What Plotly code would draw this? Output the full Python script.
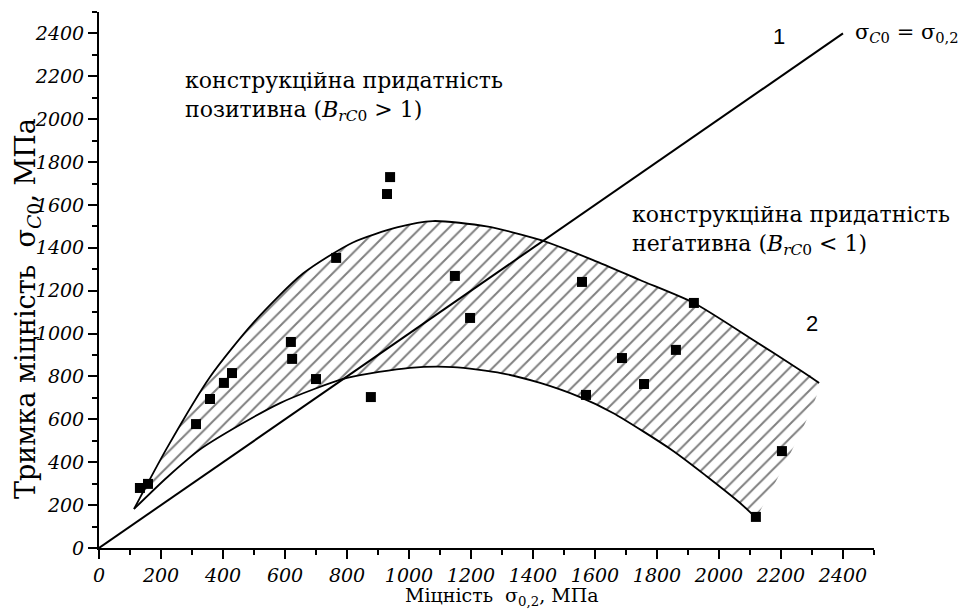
import plotly.graph_objects as go

# measured points
pts_x = [132, 158, 313, 358, 403, 429, 619, 623, 700, 765, 877, 929, 939, 1148, 1197,
         1558, 1571, 1687, 1758, 1861, 1919, 2119, 2203]
pts_y = [280, 299, 578, 695, 770, 816, 961, 882, 788, 1353, 704, 1651, 1730, 1269, 1073,
         1241, 714, 886, 765, 924, 1143, 145, 452]

# band boundaries
upper_x = [113, 219, 358, 497, 658, 819, 961, 1077, 1250, 1423, 1594, 1745, 1919, 2100, 2261, 2323]
upper_y = [182, 466, 798, 1049, 1280, 1425, 1495, 1525, 1500, 1437, 1343, 1250, 1143, 980, 830, 770]
lower_x = [113, 220, 332, 584, 800, 1003, 1142, 1300, 1423, 1550, 1658, 1850, 1960, 2068, 2120]
lower_y = [182, 330, 466, 676, 793, 840, 844, 815, 770, 705, 630, 455, 335, 210, 140]

# line 1: sigma_C0 = sigma_0.2
diag_x = [0, 2400]
diag_y = [0, 2400]

tick_vals = list(range(0, 2401, 200))
tick_text = [str(v) for v in tick_vals]

SERIF = "DejaVu Serif"
SANS = "Liberation Sans"

fig = go.Figure()

# hatched band
poly_x = upper_x + [lower_x[-1]] + lower_x[::-1]
poly_y = upper_y + [lower_y[-1]] + lower_y[::-1]
fig.add_trace(go.Scatter(
    x=poly_x, y=poly_y, mode="lines", fill="toself",
    line=dict(width=0, color="rgba(0,0,0,0)", shape="spline", smoothing=0.7),
    fillcolor="rgba(0,0,0,0)",
    fillpattern=dict(shape="/", size=10, solidity=0.2, fgcolor="black",
                     bgcolor="rgba(0,0,0,0)", fillmode="overlay"),
    hoverinfo="skip", showlegend=False))

fig.add_trace(go.Scatter(x=upper_x, y=upper_y, mode="lines",
                         line=dict(color="black", width=1.8, shape="spline", smoothing=0.7),
                         showlegend=False))
fig.add_trace(go.Scatter(x=lower_x, y=lower_y, mode="lines",
                         line=dict(color="black", width=1.8, shape="spline", smoothing=0.7),
                         showlegend=False))
fig.add_trace(go.Scatter(x=diag_x, y=diag_y, mode="lines",
                         line=dict(color="black", width=2), showlegend=False))
fig.add_trace(go.Scatter(x=pts_x, y=pts_y, mode="markers",
                         marker=dict(symbol="square", size=10, color="black"),
                         cliponaxis=False, showlegend=False))

axis_common = dict(
    range=[0, 2500], showgrid=False, zeroline=False,
    showline=True, linecolor="black", linewidth=2,
    ticks="outside", ticklen=9, tickwidth=2, tickcolor="black",
    tickvals=tick_vals, ticktext=tick_text,
    tickfont=dict(family=SERIF, size=19, color="black", style="italic"),
    minor=dict(dtick=100, tick0=0, ticks="outside", ticklen=5, tickwidth=1.5, tickcolor="black"),
)

fig.update_layout(
    width=958, height=613, autosize=False,
    margin=dict(l=99, r=84, t=12, b=65),
    plot_bgcolor="white", paper_bgcolor="white",
    font=dict(family=SERIF, size=19, color="black"),
    xaxis=axis_common, yaxis=axis_common,
    showlegend=False,
)

ann_font = dict(family=SERIF, size=22, color="black")
fig.add_annotation(x=271, y=2108, xref="x", yref="y", xanchor="left", yanchor="middle",
                   align="left", showarrow=False, font=ann_font,
                   text="конструкційна придатність<br>позитивна (<i>B</i><sub><i>rC</i>0</sub> > 1)")
fig.add_annotation(x=1713, y=1483, xref="x", yref="y", xanchor="left", yanchor="middle",
                   align="left", showarrow=False, font=ann_font,
                   text="конструкційна придатність<br>неґативна (<i>B</i><sub><i>rC</i>0</sub> < 1)")
fig.add_annotation(x=2432, y=2402, xref="x", yref="y", xanchor="left", yanchor="middle",
                   showarrow=False, font=dict(family=SERIF, size=21, color="black"),
                   text="σ<sub><i>C</i>0</sub> = σ<sub>0,2</sub>")
fig.add_annotation(x=2195, y=2385, xref="x", yref="y", xanchor="center", yanchor="middle",
                   showarrow=False, font=dict(family=SANS, size=22, color="black"),
                   text="1")
fig.add_annotation(x=2300, y=1049, xref="x", yref="y", xanchor="center", yanchor="middle",
                   showarrow=False, font=dict(family=SANS, size=22, color="black"),
                   text="2")
# axis titles
fig.add_annotation(x=-0.0916, y=0.446, xref="paper", yref="paper", xanchor="center",
                   yanchor="middle", textangle=-90, showarrow=False,
                   font=dict(family=SERIF, size=27, color="black"),
                   text="Тримка міцність  σ<sub><i>C</i>0</sub>, МПа")
fig.add_annotation(x=0.52, y=-0.0914, xref="paper", yref="paper", xanchor="center",
                   yanchor="middle", showarrow=False,
                   font=dict(family=SERIF, size=19, color="black"),
                   text="Міцність  σ<sub>0,2</sub>, МПа")

fig.write_html("out.html")
